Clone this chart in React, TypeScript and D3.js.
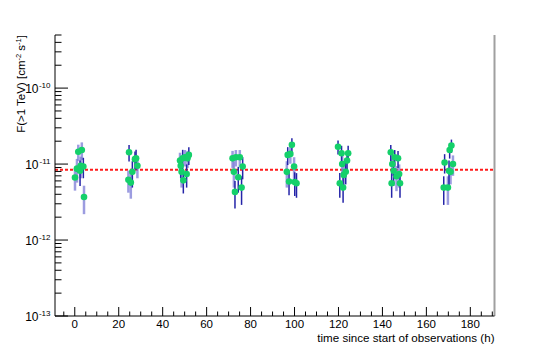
import React from 'react';
import * as d3 from 'd3';

// flux points, in units of 1e-11 cm^-2 s^-1
const times = [
  0.1, 1.0, 1.6, 2.4, 2.7, 3.2, 3.9, 4.2,
  24.4, 24.7, 25.5, 26.2, 27.4, 27.9, 28.5,
  47.9, 48.2, 48.6, 49.1, 49.4, 50.1, 50.9, 51.3, 51.9,
  71.8, 72.4, 72.9, 73.3, 74.4, 75.1, 75.9, 76.4,
  96.5, 96.9, 97.5, 98.1, 98.8, 99.8, 100.1, 100.9,
  119.8, 120.6, 121.4, 121.7, 122.1, 122.4, 123.3, 123.9, 124.4,
  143.8, 144.2, 144.5, 145.1, 145.6, 146.4, 147.1, 147.6, 148.0,
  167.9, 168.3, 169.8, 170.3, 170.6, 171.0, 171.4, 172.1,
];
const fluxes = [
  0.667, 0.87, 1.45, 0.815, 0.95, 1.53, 0.93, 0.369,
  0.62, 1.43, 0.57, 0.79, 1.16, 1.19, 0.95,
  1.11, 0.95, 0.79, 1.19, 0.61, 1.23, 0.74, 1.19, 1.32,
  1.19, 0.79, 0.43, 1.23, 0.67, 1.23, 0.49, 0.93,
  0.79, 1.32, 0.59, 1.36, 1.79, 0.93, 0.58, 0.56,
  1.69, 0.56, 1.39, 1.0, 0.49, 0.72, 0.79, 1.11, 1.39,
  1.43, 0.56, 1.0, 0.815, 1.23, 0.69, 1.19, 0.74, 0.56,
  0.49, 1.05, 0.49, 0.815, 1.53, 0.79, 1.75, 1.0,
];
const fluxErrs = [
  0.22, 0.3, 0.35, 0.3, 0.3, 0.4, 0.28, 0.15,
  0.2, 0.35, 0.22, 0.3, 0.3, 0.35, 0.3,
  0.3, 0.3, 0.3, 0.35, 0.2, 0.3, 0.25, 0.3, 0.35,
  0.3, 0.3, 0.17, 0.3, 0.25, 0.3, 0.2, 0.3,
  0.3, 0.35, 0.2, 0.35, 0.4, 0.3, 0.2, 0.2,
  0.35, 0.2, 0.35, 0.3, 0.18, 0.25, 0.25, 0.3, 0.35,
  0.35, 0.2, 0.3, 0.3, 0.3, 0.25, 0.3, 0.25, 0.2,
  0.2, 0.3, 0.2, 0.3, 0.35, 0.25, 0.35, 0.3,
];
// 1 = dark error bar, 0 = light error bar
const darkBar = [
  0, 0, 0, 1, 0, 0, 1, 0,
  0, 1, 0, 1, 1, 1, 0,
  0, 1, 0, 1, 1, 0, 1, 0, 1,
  0, 0, 1, 0, 1, 0, 1, 1,
  0, 1, 1, 0, 1, 0, 1, 1,
  1, 1, 1, 0, 1, 0, 1, 1, 1,
  1, 1, 0, 1, 1, 0, 1, 0, 1,
  1, 1, 0, 1, 1, 0, 1, 0,
];
const meanFlux = 0.84;
const xTicks = [0, 20, 40, 60, 80, 100, 120, 140, 160, 180];
const yDecades = [-13, -12, -11, -10];

const W = 550;
const H = 351;
const left = 55;
const right = 494.5;
const top = 35;
const bottom = 316;
const font = '"Liberation Sans", Arial, Helvetica, sans-serif';

export default function App() {
  const x = d3.scaleLinear().domain([-9, 191]).range([left, right]);
  const y = d3.scaleLog().domain([1e-13, 5e-10]).range([bottom, top]);

  const minorX = d3.range(-5, 191, 5).filter(v => v % 20 !== 0);
  const minorY: number[] = [];
  for (const d of [-13, -12, -11, -10]) {
    for (let m = 2; m <= 9; m++) {
      const v = m * Math.pow(10, d);
      if (v <= 5e-10) minorY.push(v);
    }
  }

  const pts = times.map((t, i) => ({
    t,
    f: fluxes[i] * 1e-11,
    e: fluxErrs[i] * 1e-11,
    dark: darkBar[i] === 1,
  }));

  return (
    <div style={{ position: 'fixed', left: 0, top: 0 }}>
      <svg width={W} height={H} style={{ display: 'block', background: '#fff' }}>
        {/* frame */}
        <line x1={right} x2={right} y1={top} y2={bottom} stroke="#a0a0a0" strokeWidth={2} />

        {/* mean flux line */}
        <line x1={left} x2={right - 1} y1={y(meanFlux * 1e-11)} y2={y(meanFlux * 1e-11)}
          stroke="#ff1a1a" strokeWidth={2} strokeDasharray="3,2" />

        {/* error bars */}
        {pts.filter(p => !p.dark).map((p, i) => (
          <line key={'l' + i} x1={x(p.t)} x2={x(p.t)} y1={y(p.f + p.e)} y2={y(Math.max(p.f - p.e, 1e-13))}
            stroke="#7b7bd6" strokeOpacity={0.75} strokeWidth={2.5} />
        ))}
        {pts.filter(p => p.dark).map((p, i) => (
          <line key={'d' + i} x1={x(p.t)} x2={x(p.t)} y1={y(p.f + p.e)} y2={y(Math.max(p.f - p.e, 1e-13))}
            stroke="#2424a8" strokeWidth={1.5} />
        ))}
        {/* markers */}
        {pts.map((p, i) => (
          <circle key={'m' + i} cx={x(p.t)} cy={y(p.f)} r={3.3} fill="#14d06a" />
        ))}

        {/* axes */}
        <line x1={left} x2={left} y1={top} y2={bottom} stroke="#000" strokeWidth={1} />
        <line x1={left} x2={right} y1={bottom} y2={bottom} stroke="#000" strokeWidth={1} />

        {xTicks.map(v => (
          <g key={'xt' + v}>
            <line x1={x(v)} x2={x(v)} y1={bottom} y2={bottom - 9} stroke="#000" />
            <text x={x(v)} y={327.5} textAnchor="middle" fontFamily={font} fontSize={11.5}>{v}</text>
          </g>
        ))}
        {minorX.map(v => (
          <line key={'xm' + v} x1={x(v)} x2={x(v)} y1={bottom} y2={bottom - 4.5} stroke="#000" />
        ))}

        {yDecades.map(d => (
          <g key={'yt' + d}>
            <line x1={left} x2={left + 13} y1={y(Math.pow(10, d))} y2={y(Math.pow(10, d))} stroke="#000" />
            <text x={38.5} y={y(Math.pow(10, d)) + 5} textAnchor="end" fontFamily={font} fontSize={12}>10</text>
            <text x={50.5} y={y(Math.pow(10, d))} textAnchor="end" fontFamily={font} fontSize={8}>{d}</text>
          </g>
        ))}
        {minorY.map((v, i) => (
          <line key={'ym' + i} x1={left} x2={left + 6.5} y1={y(v)} y2={y(v)} stroke="#000" />
        ))}

        {/* titles */}
        <text x={right} y={341.5} textAnchor="end" fontFamily={font} fontSize={11.6}>
          time since start of observations (h)
        </text>
        <text transform={`translate(25,${top}) rotate(-90)`} textAnchor="end" fontFamily={font} fontSize={11.5}>
          F(&gt;1 TeV) [cm<tspan fontSize={7.5} dy={-4}>-2</tspan><tspan dy={4}> s</tspan>
          <tspan fontSize={7.5} dy={-4}>-1</tspan><tspan dy={4}>]</tspan>
        </text>
      </svg>
    </div>
  );
}
